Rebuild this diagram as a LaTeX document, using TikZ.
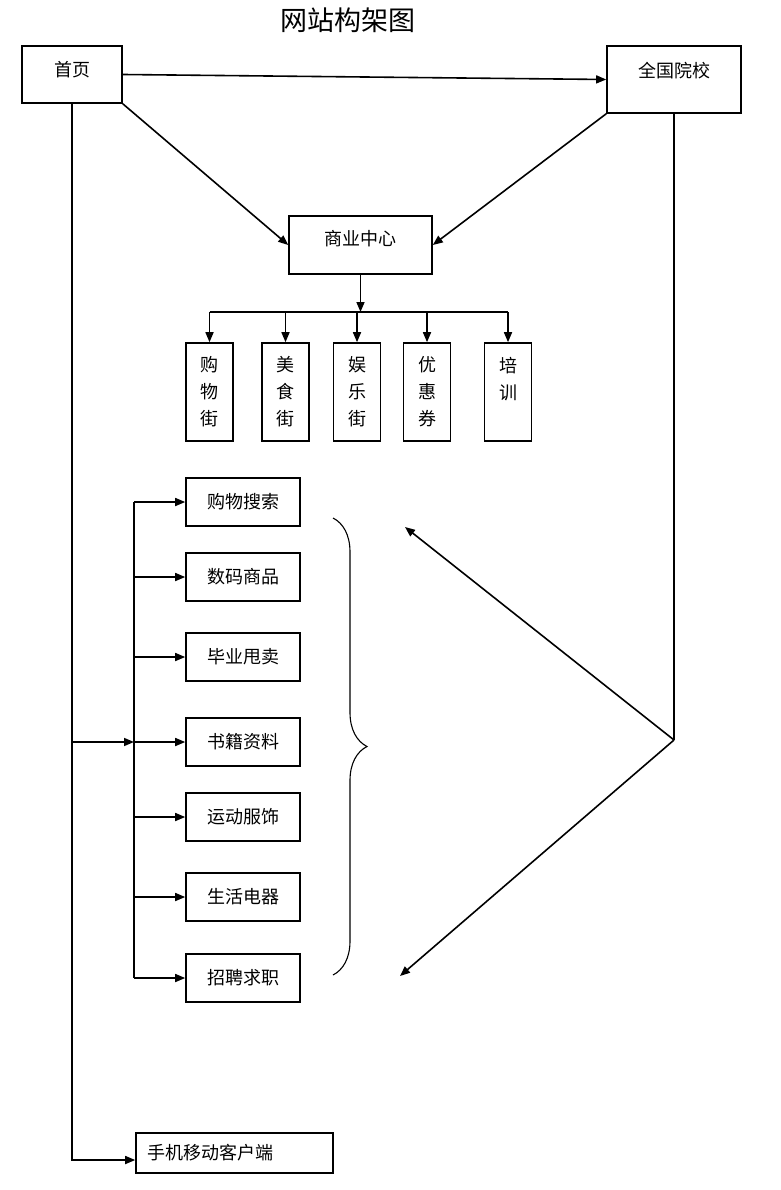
\documentclass[tikz,border=0pt]{standalone}
\usepackage{fontspec}
\setmainfont{Noto Sans CJK SC}
\usepackage{tikz}
\usetikzlibrary{arrows.meta,decorations.pathreplacing}

\begin{document}
\begin{tikzpicture}[x=1pt, y=-1pt, line width=1.6pt, >={Triangle[length=10pt,width=8pt]},
  box/.style={draw, rectangle, inner sep=0pt, font=\fontsize{18}{21}\selectfont},
  vbox/.style={box, minimum width=47pt, minimum height=98pt, align=center, font=\fontsize{18}{27}\selectfont},
  lbox/.style={box, minimum width=114pt, minimum height=48pt}]
  \useasboundingbox (0,0) rectangle (780,1190);

  % Nodes
  \node[font=\fontsize{27}{30}\selectfont] (title) at (348,20) {网站构架图};
  \node[box, minimum width=100pt, minimum height=57pt, text depth=11pt] (home) at (72,74.5) {首页};
  \node[box, minimum width=134pt, minimum height=67pt, text depth=20pt] (school) at (674,79.5) {全国院校};
  \node[box, minimum width=143pt, minimum height=58pt, text depth=15pt] (center) at (360.5,245) {商业中心};

  \node[vbox] (gouwujie) at (209.5,392) {购\\物\\街};
  \node[vbox] (meishijie) at (285.5,392) {美\\食\\街};
  \node[vbox] (yulejie) at (357,392) {娱\\乐\\街};
  \node[vbox] (youhuiquan) at (427,392) {优\\惠\\券};
  \node[vbox] (peixun) at (508,392) {培\\训\\\mbox{}};

  \node[lbox] (sousuo) at (243,502) {购物搜索};
  \node[lbox] (shuma) at (243,577) {数码商品};
  \node[lbox] (biye) at (243,657) {毕业甩卖};
  \node[lbox] (shuji) at (243,742) {书籍资料};
  \node[lbox] (yundong) at (243,817) {运动服饰};
  \node[lbox] (shenghuo) at (243,897) {生活电器};
  \node[lbox] (zhaopin) at (243,978) {招聘求职};

  \node[box, text width=175pt, inner xsep=11pt, minimum height=40pt, align=left] (mobile) at (234.5,1153) {手机移动客户端};

  \coordinate (bus) at (357,312);
  \coordinate (sub) at (134,742);
  \coordinate (turn) at (674,740);
  \coordinate (up) at (405,527);
  \coordinate (down) at (400,976);

  % Arrows
  \draw[->] (home.east) -- (school.west);
  \draw[->] (home.south east) -- (center.west);
  \draw[->] (school.south west) -- (center.east);

  \draw[->] (center.south) -- (center.south |- bus);
  \draw (gouwujie.north |- bus) -- (peixun.north |- bus);
  \foreach \n in {gouwujie, meishijie, yulejie, youhuiquan, peixun}
    \draw[->] (\n.north |- bus) -- (\n.north);

  \draw[->] (home.south) |- ([yshift=-7pt]mobile.west);
  \draw[->] (home.south |- sub) -- (sub);
  \draw (sub |- sousuo.west) -- (sub |- zhaopin.west);
  \foreach \n in {sousuo, shuma, biye, shuji, yundong, shenghuo, zhaopin}
    \draw[->] (sub |- \n.west) -- (\n.west);

  % Brace and school links
  \draw[line width=1.1pt, decorate, decoration={brace, amplitude=34pt}] (333,518) -- (333,975);
  \draw (school.south) -- (turn);
  \draw[->] (turn) -- (up);
  \draw[->] (turn) -- (down);
\end{tikzpicture}
\end{document}
